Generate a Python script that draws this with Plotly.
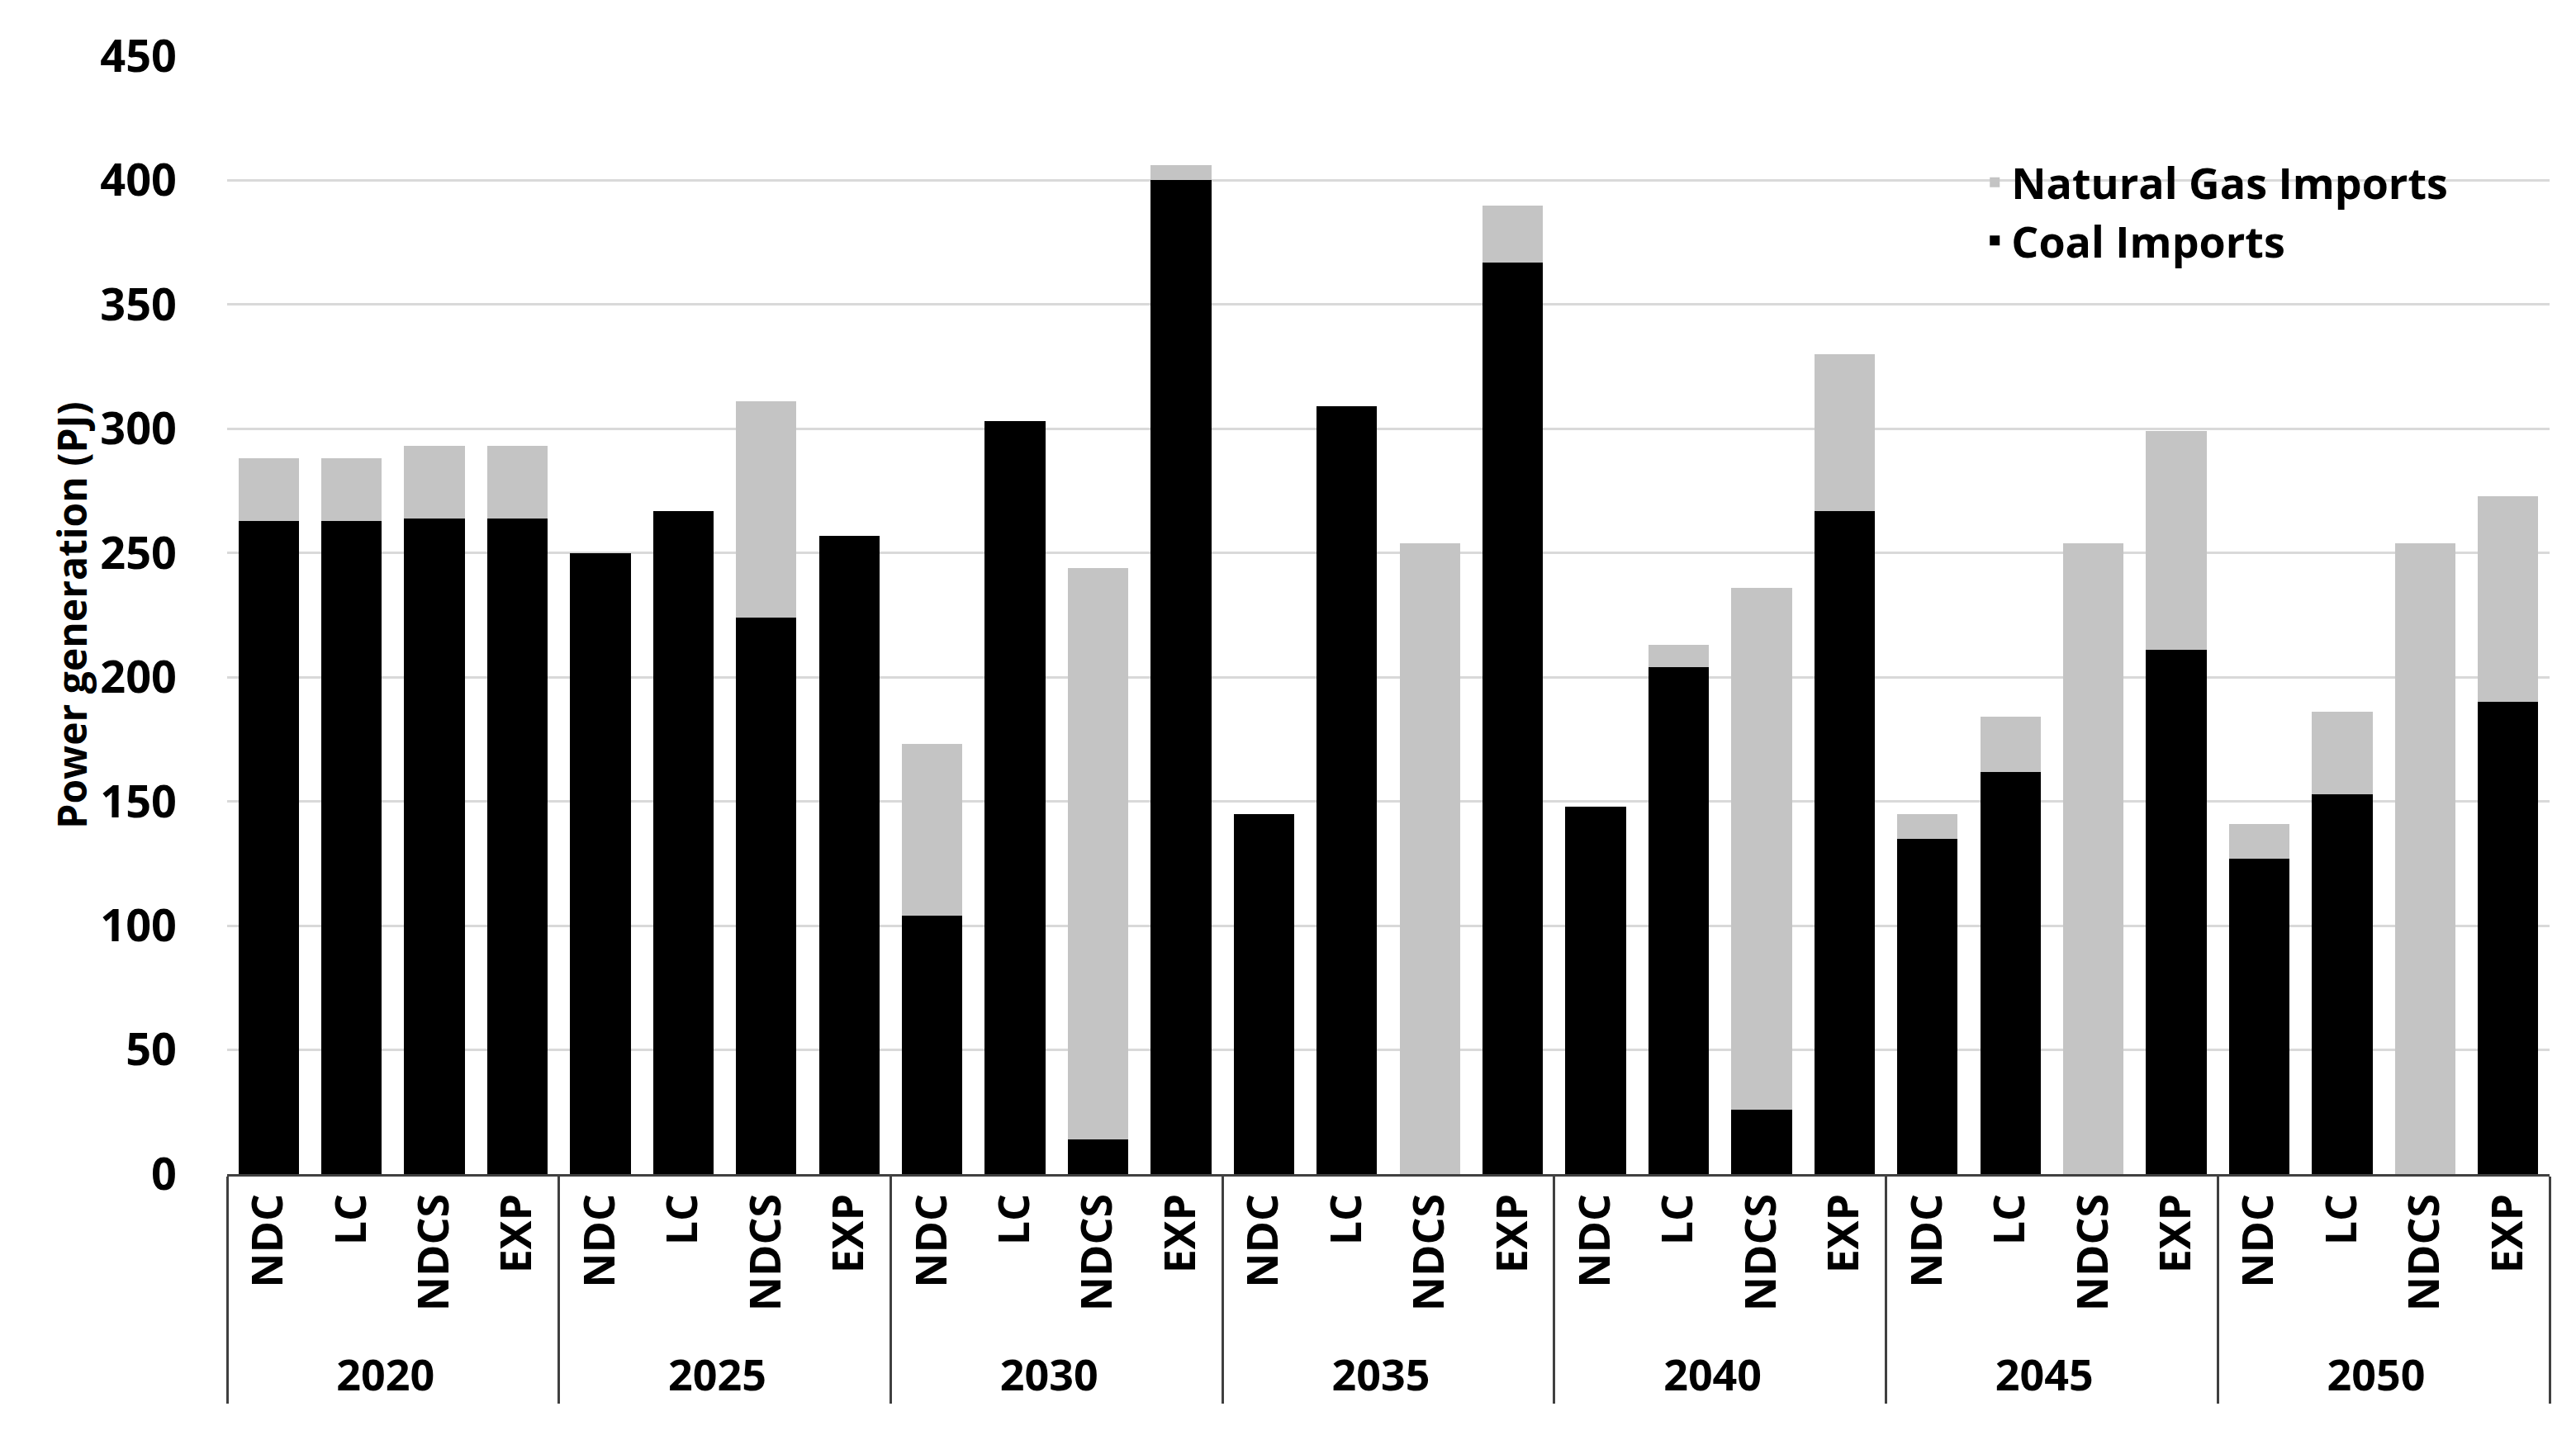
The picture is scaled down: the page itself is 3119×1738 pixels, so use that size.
import plotly.graph_objects as go

years = ["2020", "2025", "2030", "2035", "2040", "2045", "2050"]
scenarios = ["NDC", "LC", "NDCS", "EXP"]

# values per year, in scenario order NDC, LC, NDCS, EXP (PJ)
coal_imports = [
    263, 263, 264, 264,
    250, 267, 224, 257,
    104, 303, 14, 400,
    145, 309, 0, 367,
    148, 204, 26, 267,
    135, 162, 0, 211,
    127, 153, 0, 190,
]
gas_imports = [
    25, 25, 29, 29,
    0, 0, 87, 0,
    69, 0, 230, 6,
    0, 0, 254, 23,
    0, 9, 210, 63,
    10, 22, 254, 88,
    14, 33, 254, 83,
]

x_years = [y for y in years for _ in scenarios]
x_scen = [s for _ in years for s in scenarios]

fig = go.Figure()

fig.add_trace(go.Bar(
    x=[x_years, x_scen],
    y=coal_imports,
    name="Coal Imports",
    marker=dict(color="#000000", line=dict(width=0)),
))
fig.add_trace(go.Bar(
    x=[x_years, x_scen],
    y=gas_imports,
    name="Natural Gas Imports",
    marker=dict(color="#c4c4c4", line=dict(width=0)),
))

fig.update_layout(
    barmode="stack",
    bargap=0.27,
    width=3119,
    height=1738,
    margin=dict(l=267, r=40, t=60, b=324),
    paper_bgcolor="white",
    plot_bgcolor="white",
    font=dict(family="Open Sans", color="#000000", size=52),
    legend=dict(
        x=0.754, y=0.917,
        xanchor="left", yanchor="top",
        traceorder="reversed",
        font=dict(size=52, weight="bold"),
        bgcolor="rgba(0,0,0,0)",
        tracegroupgap=0,
    ),
)

fig.update_yaxes(
    range=[0, 450],
    dtick=50,
    showgrid=True,
    gridcolor="#d9d9d9",
    gridwidth=3,
    zeroline=False,
    showline=False,
    tickfont=dict(size=54, weight="bold"),
    ticklabelstandoff=60,
    automargin=False,
    title=dict(text="Power generation (PJ)", font=dict(size=48, weight="bold"), standoff=0),
)

fig.update_xaxes(
    type="multicategory",
    showline=True,
    linecolor="#404040",
    linewidth=3,
    tickangle=-90,
    tickfont=dict(size=52, weight="bold"),
    showdividers=True,
    dividercolor="#404040",
    dividerwidth=3,
    ticks="",
    automargin=False,
)

fig.write_html("out.html")
